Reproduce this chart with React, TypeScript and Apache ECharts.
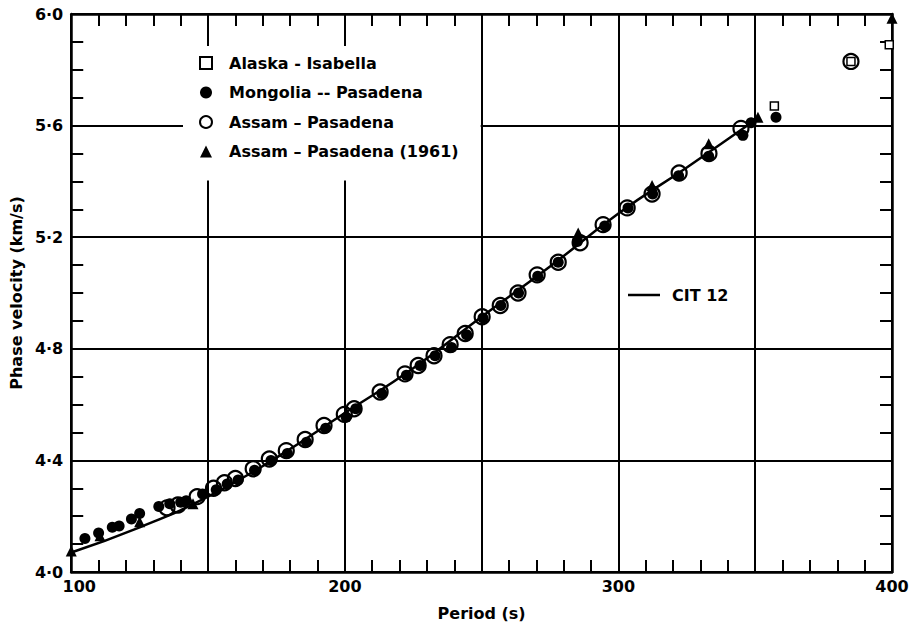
import React, { useEffect, useRef } from "react";
import * as echarts from "echarts";

// CIT 12 model dispersion curve
const cit12Period = [100, 125, 150, 175, 200, 225, 250, 275, 300, 325, 350];
const cit12Velocity = [4.07, 4.16, 4.27, 4.41, 4.57, 4.73, 4.915, 5.095, 5.285, 5.45, 5.62];

// Alaska - Isabella
const alaskaPeriod = [357, 385, 399];
const alaskaVelocity = [5.67, 5.83, 5.89];

// Mongolia - Pasadena
const mongoliaPeriod = [
  105, 110, 115, 117.5, 122, 125, 132, 136, 140, 142, 148, 153, 157, 161, 167, 173, 179,
  186, 193, 200.5, 204, 213.5, 222.5, 227.5, 233, 239, 244.5, 250.5, 257, 263.5, 270.5,
  278, 285, 295, 303.5, 312.5, 322, 333, 345.5, 348.5, 357.6,
];
const mongoliaVelocity = [
  4.12, 4.14, 4.16, 4.165, 4.19, 4.21, 4.235, 4.245, 4.25, 4.255, 4.28, 4.295, 4.315, 4.33,
  4.365, 4.4, 4.425, 4.465, 4.515, 4.555, 4.585, 4.64, 4.705, 4.74, 4.775, 4.805, 4.85, 4.91,
  4.955, 5.0, 5.06, 5.11, 5.185, 5.24, 5.305, 5.355, 5.42, 5.49, 5.565, 5.61, 5.63,
];

// Assam - Pasadena
const assamPeriod = [
  135, 139, 146, 152, 156, 160, 166.5, 172.4, 178.6, 185.5, 192.4, 199.8, 203.4, 212.9, 222,
  226.8, 232.6, 238.5, 244, 250.2, 256.8, 263.3, 270.3, 278, 286, 294.4, 303.2, 312.3, 322.2,
  333.1, 344.8, 385,
];
const assamVelocity = [
  4.23, 4.24, 4.27, 4.3, 4.32, 4.335, 4.37, 4.405, 4.435, 4.475, 4.525, 4.565, 4.585, 4.645,
  4.71, 4.74, 4.775, 4.815, 4.855, 4.915, 4.955, 5.0, 5.065, 5.11, 5.18, 5.245, 5.305, 5.355,
  5.43, 5.5, 5.59, 5.83,
];

// Assam - Pasadena (1961)
const assam1961Period = [100, 110.5, 125, 144.5, 285.3, 312.3, 333, 351, 400];
const assam1961Velocity = [4.075, 4.13, 4.18, 4.245, 5.215, 5.385, 5.535, 5.63, 5.985];

const periodLabels = [100, 200, 300, 400];

const zip = (xs: number[], ys: number[]) => xs.map((x, i) => [x, ys[i]]);

const FONT = "DejaVu Sans";

export default function App() {
  const ref = useRef<HTMLDivElement>(null);

  useEffect(() => {
    if (!ref.current) return;
    const chart = echarts.init(ref.current, null, { renderer: "svg" });

    const frame = { show: true, onZero: false, lineStyle: { color: "#000", width: 2.5 } };
    const ticks = { show: true, inside: true, length: 13, lineStyle: { color: "#000", width: 2 } };
    const minor = (n: number) => ({
      show: true,
      splitNumber: n,
      length: 12,
      lineStyle: { color: "#000", width: 2 },
    });
    const tickFont = {
      fontFamily: FONT,
      fontWeight: "bold",
      fontSize: 16,
      color: "#000",
    };
    const titleFont = { fontFamily: FONT, fontWeight: "bold", fontSize: 16, color: "#000" };

    chart.setOption({
      animation: false,
      backgroundColor: "#fff",
      textStyle: { fontFamily: FONT, color: "#000" },
      grid: { left: 70, right: 24, top: 14, bottom: 55 },
      xAxis: [
        {
          type: "value",
          min: 100,
          max: 400,
          interval: 50,
          name: "Period (s)",
          nameLocation: "middle",
          nameGap: 33,
          nameTextStyle: titleFont,
          axisLine: frame,
          axisTick: ticks,
          minorTick: minor(5),
          splitLine: { show: true, lineStyle: { color: "#000", width: 2 } },
          axisLabel: {
            ...tickFont,
            margin: 6,
            formatter: (v: number) =>
              v === 100 ? "{first|100}" : periodLabels.includes(v) ? String(v) : "",
            rich: { first: { ...tickFont, padding: [0, 0, 0, 16] } },
          },
        },
        {
          type: "value",
          position: "top",
          min: 100,
          max: 400,
          interval: 50,
          axisLine: frame,
          axisTick: ticks,
          minorTick: minor(5),
          splitLine: { show: false },
          axisLabel: { show: false },
        },
      ],
      yAxis: [
        {
          type: "value",
          min: 4,
          max: 6,
          interval: 0.4,
          name: "Phase velocity (km/s)",
          nameLocation: "middle",
          nameGap: 45,
          nameTextStyle: titleFont,
          axisLine: frame,
          axisTick: ticks,
          minorTick: minor(4),
          splitLine: { show: true, lineStyle: { color: "#000", width: 2 } },
          axisLabel: {
            ...tickFont,
            margin: 8,
            formatter: (v: number) => v.toFixed(1).replace(".", "·"),
          },
        },
        {
          type: "value",
          position: "right",
          min: 4,
          max: 6,
          interval: 0.4,
          axisLine: frame,
          axisTick: ticks,
          minorTick: minor(4),
          splitLine: { show: false },
          axisLabel: { show: false },
        },
      ],
      legend: [
        {
          orient: "vertical",
          left: 183,
          top: 46,
          padding: [8, 22, 20, 16],
          backgroundColor: "#fff",
          itemWidth: 12,
          itemHeight: 12,
          itemGap: 11.5,
          textStyle: {
            fontFamily: FONT,
            fontWeight: "bold",
            fontSize: 16,
            color: "#000",
            lineHeight: 18,
            padding: [0, 0, 0, 12],
          },
          data: [
            "Alaska - Isabella",
            "Mongolia -- Pasadena",
            "Assam – Pasadena",
            "Assam – Pasadena (1961)",
          ],
        },
        {
          orient: "vertical",
          left: 628,
          top: 287,
          padding: 0,
          itemWidth: 32,
          itemHeight: 2.5,
          icon: "rect",
          textStyle: {
            fontFamily: FONT,
            fontWeight: "bold",
            fontSize: 16,
            color: "#000",
            padding: [0, 0, 0, 7],
          },
          data: ["CIT 12"],
        },
      ],
      series: [
        {
          name: "CIT 12",
          type: "line",
          smooth: true,
          showSymbol: false,
          symbol: "none",
          data: zip(cit12Period, cit12Velocity),
          lineStyle: { color: "#000", width: 2.5 },
          itemStyle: { color: "#000" },
          z: 1,
        },
        {
          name: "Mongolia -- Pasadena",
          type: "scatter",
          symbol: "circle",
          symbolSize: 11,
          data: zip(mongoliaPeriod, mongoliaVelocity),
          itemStyle: { color: "#000", opacity: 1 },
          z: 2,
        },
        {
          name: "Assam – Pasadena",
          type: "scatter",
          symbol: "circle",
          symbolSize: 15,
          data: zip(assamPeriod, assamVelocity),
          itemStyle: {
            color: "rgba(0,0,0,0)",
            borderColor: "#000",
            borderWidth: 2.2,
            opacity: 1,
          },
          z: 3,
        },
        {
          name: "Assam – Pasadena (1961)",
          type: "scatter",
          symbol: "triangle",
          symbolSize: 11,
          clip: false,
          data: zip(assam1961Period, assam1961Velocity),
          itemStyle: { color: "#000", opacity: 1 },
          z: 4,
        },
        {
          name: "Alaska - Isabella",
          type: "scatter",
          symbol: "rect",
          symbolSize: 8,
          clip: false,
          data: zip(alaskaPeriod, alaskaVelocity),
          itemStyle: { color: "#fff", borderColor: "#000", borderWidth: 1.5, opacity: 1 },
          z: 5,
        },
      ],
    });

    return () => chart.dispose();
  }, []);

  return <div ref={ref} style={{ width: 916, height: 627, position: "absolute", left: 0, top: 0 }} />;
}
